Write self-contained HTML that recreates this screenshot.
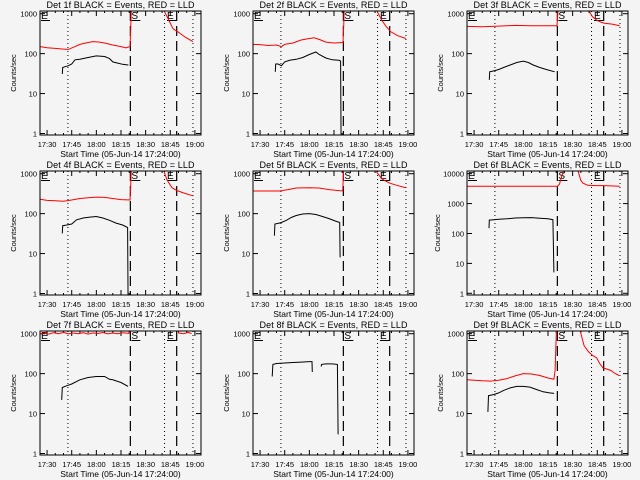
<!DOCTYPE html>
<html><head><meta charset="utf-8"><style>
html,body{margin:0;padding:0;background:#f4f4f4;}
svg{display:block;font-family:"Liberation Sans",sans-serif;}
</style></head><body>
<svg id="c" width="640" height="480" viewBox="0 0 640 480">
<rect width="640" height="480" fill="#f4f4f4"/>
</svg>
<script>
// minutes after 17:00
const det1LldTimes=[25.7,30,35,40,43,47,50,55,58,62,65,70,75,78,80.5,80.9,81.5,100,101.2,104,106.7,109.7,114,118.8];
const det1LldCounts=[150,140,135,130,128,150,170,190,200,195,185,165,150,140,150,400,3000,3000,1200,700,420,350,260,200];
const det1EventTimes=[39.3,39.5,41,43,45,47,50,55,60,65,68,70,73,76,79.5];
const det1EventCounts=[31,45,47,50,55,70,72,80,88,85,75,62,58,54,52];

const det2LldTimes=[25.7,30,35,40,43,45,50,55,60,63,67,70,75,80.5,80.9,81.5,100,101,104,106.7,109.7,114,118.8];
const det2LldCounts=[170,168,160,165,150,170,185,220,240,250,220,195,185,190,500,3000,3000,1200,700,480,350,280,240];
const det2EventTimes=[39.3,39.5,41,43,45,48,52,56,60,64,66,70,74,78,79,79.3];
const det2EventCounts=[35,55,55,50,62,68,72,80,95,110,95,78,70,68,65,0.5];

const det3LldTimes=[25.7,35,45,55,65,75,80.5,80.9,81.5,99,100.4,102,104.4,107,109.4,114,118.6];
const det3LldCounts=[480,470,490,510,500,500,500,900,3000,3000,1100,850,700,620,580,550,500];
const det3EventTimes=[39.3,39.5,42,45,48,52,56,60,63,66,70,74,79.1];
const det3EventCounts=[22,35,37,40,45,52,60,65,60,52,45,40,35];

const det4LldTimes=[25.7,30,35,40,45,50,55,60,65,70,75,80.5,80.9,81.5,100,101,103,106,109,113,118.8];
const det4LldCounts=[230,215,210,205,220,240,250,260,255,240,225,220,500,3000,3000,1200,700,450,380,330,280];
const det4EventTimes=[39.3,39.5,42,45,48,52,56,60,64,68,72,76,79,79.3];
const det4EventCounts=[32,50,52,55,70,78,82,85,78,68,58,52,45,0.5];

const det5LldTimes=[25.7,35,42,47,52,60,66,72,80.3,80.6,81.2,100,101,104,107,109,114,118.6];
const det5LldCounts=[370,370,370,400,440,445,440,400,370,700,3000,3000,1100,750,640,580,500,450];
const det5EventTimes=[38.7,39,41,43,46,49,52,56,60,64,68,72,76,78.5,78.7];
const det5EventCounts=[28,55,57,60,68,80,90,98,100,95,85,75,65,60,8];

const det6LldTimes=[25.7,40,60,80.7,82,83,84.1,85,92,93.3,95,96.3,99.3,104,109.4,118.6];
const det6LldCounts=[3800,3800,3800,3800,4500,7000,11000,30000,30000,12000,6000,4800,4100,4000,4000,3800];
const det6EventTimes=[39.1,39.3,42,45,50,55,60,65,70,75,78,78.3,78.6];
const det6EventCounts=[150,280,290,300,310,330,335,340,325,310,290,40,5];

const det7LldTimes=[25.7,28,31,34,37,40,43,46,49,52,55,58,61,64,67,70,73,76,79.9,80.3,109,110,113,116,118];
const det7LldCounts=[1000,1050,980,1060,1000,1080,990,1040,1000,1060,980,1050,1010,1070,990,1040,1000,1060,1020,3000,3000,1050,1000,1080,1000];
const det7EventTimes=[38.9,39.3,42,45,50,55,60,65,68,70,75,79.3];
const det7EventCounts=[22,45,50,55,70,80,85,85,72,70,60,48];

const det8LldTimes=[25.7,123];
const det8LldCounts=[3000,3000];
const det8EventTimes=[37.4,37.8,40,45,50,55,60,61.6,61.8,null,67.2,67.4,70,74,77.1,77.5];
const det8EventCounts=[85,170,180,185,190,195,200,200,110,null,150,170,175,175,170,3];

const det9LldTimes=[25.7,30,35,40,45,50,55,60,65,70,75,78.6,79.3,79.9,80.5,94,94.8,97,99.7,102,104.6,106.5,108.4,111,113.3,116,118.2];
const det9LldCounts=[70,68,66,65,68,75,88,100,98,90,78,72,120,600,3000,3000,1100,500,350,290,250,180,140,130,120,100,90];
const det9EventTimes=[38.4,38.8,42,45,48,52,56,60,64,68,72,76,78.7];
const det9EventCounts=[11,28,30,33,38,44,48,48,46,40,35,33,32];

const xTickTimes=[30,45,60,75,90,105,120];
const xTickLabels=["17:30","17:45","18:00","18:15","18:30","18:45","19:00"];
const dottedTimes=[42.7,101.5,118.8];
const dashedTimes=[80.7,108.9];

const panels=[
 {n:1,lt:det1LldTimes,lc:det1LldCounts,et:det1EventTimes,ec:det1EventCounts,big:false},
 {n:2,lt:det2LldTimes,lc:det2LldCounts,et:det2EventTimes,ec:det2EventCounts,big:false},
 {n:3,lt:det3LldTimes,lc:det3LldCounts,et:det3EventTimes,ec:det3EventCounts,big:false},
 {n:4,lt:det4LldTimes,lc:det4LldCounts,et:det4EventTimes,ec:det4EventCounts,big:false},
 {n:5,lt:det5LldTimes,lc:det5LldCounts,et:det5EventTimes,ec:det5EventCounts,big:false},
 {n:6,lt:det6LldTimes,lc:det6LldCounts,et:det6EventTimes,ec:det6EventCounts,big:true},
 {n:7,lt:det7LldTimes,lc:det7LldCounts,et:det7EventTimes,ec:det7EventCounts,big:false},
 {n:8,lt:det8LldTimes,lc:det8LldCounts,et:det8EventTimes,ec:det8EventCounts,big:false},
 {n:9,lt:det9LldTimes,lc:det9LldCounts,et:det9EventTimes,ec:det9EventCounts,big:false}
];
const NS="http://www.w3.org/2000/svg";
const svg=document.getElementById('c');
const colX=[40,253,467], rowY=[11,171,331], W=161, H=124;
function mk(tag,attrs,parent){const e=document.createElementNS(NS,tag);for(const k in attrs)e.setAttribute(k,attrs[k]);parent.appendChild(e);return e;}
function xs(t){return (t-25.7)*W/(123.7-25.7);}
panels.forEach((p,i)=>{
  const ox=colX[i%3], oy=rowY[Math.floor(i/3)];
  const lo=p.big?-0.057:-0.0376, hi=p.big?4.09:3.068;
  const ys=v=>H-(Math.log10(v)-lo)/(hi-lo)*H;
  const g=mk('g',{transform:`translate(${ox},${oy})`},svg);
  
  
  const cp=mk('clipPath',{id:'cp'+p.n},g); mk('rect',{x:0,y:0,width:W,height:H},cp);
  const t=mk('text',{x:W/2,y:-3,'text-anchor':'middle','font-size':9,fill:'#000',textLength:148,lengthAdjust:'spacing'},g);
  t.textContent='Det '+p.n+'f BLACK = Events, RED = LLD';
  
  
  const decs=p.big?[1,10,100,1000,10000]:[1,10,100,1000];
  decs.forEach(d=>{
    const y=ys(d);
    mk('line',{x1:0,x2:5,y1:y,y2:y,stroke:'#000'},g);
    mk('line',{x1:W-5,x2:W,y1:y,y2:y,stroke:'#000'},g);
    const l=mk('text',{x:-3,y:y+3,'text-anchor':'end','font-size':7.5,fill:'#000'},g);
    l.textContent=String(d);
    
    
  });
  const yt=mk('text',{x:0,y:0,transform:`translate(${p.big?-27:-24},${H/2}) rotate(-90)`,'text-anchor':'middle','font-size':7.5,fill:'#000'},g);
  yt.textContent='Counts/sec';
  
  
  for(let m=30;m<=120;m+=5){
    const x=xs(m), L=(m%15===0)?5:2;
    mk('line',{x1:x,x2:x,y1:H,y2:H-L,stroke:'#000'},g);
    mk('line',{x1:x,x2:x,y1:0,y2:L,stroke:'#000'},g);
  }
  xTickTimes.forEach((m,k)=>{
    const l=mk('text',{x:xs(m),y:H+12,'text-anchor':'middle','font-size':7.5,fill:'#000'},g);
    l.textContent=xTickLabels[k];
    
    
  });
  const xt=mk('text',{x:W/2,y:H+22,'text-anchor':'middle','font-size':8.5,fill:'#000'},g);
  xt.textContent='Start Time (05-Jun-14 17:24:00)';
  
  
  dottedTimes.forEach(m=>{mk('line',{x1:xs(m),x2:xs(m),y1:0,y2:H,stroke:'#000','stroke-dasharray':'1,3'},g);});
  dashedTimes.forEach(m=>{mk('line',{x1:xs(m),x2:xs(m),y1:0,y2:H,stroke:'#000','stroke-width':1.2,'stroke-dasharray':'10,5'},g);});
  [[1,'E'],[xs(dashedTimes[0])+1,'S'],[xs(103),'E']].forEach(([x,s])=>{
    const m=mk('text',{x:x,y:8,'font-size':10,fill:'#000'},g);
    m.textContent=s;
    
    
    mk('line',{x1:x,x2:x+9,y1:9.5,y2:9.5,stroke:'#000'},g);
  });
  const cg=mk('g',{'clip-path':`url(#cp${p.n})`},g);
  function series(ts,vs,col,name){
    let segs=[],cur=[];
    ts.forEach((tt,k)=>{ if(tt===null||vs[k]===null){if(cur.length)segs.push(cur);cur=[];} else cur.push(xs(tt).toFixed(1)+','+ys(vs[k]).toFixed(1)); });
    if(cur.length)segs.push(cur);
    segs.forEach(s=>{
      const pl=mk('polyline',{points:s.join(' '),fill:'none',stroke:col,'stroke-width':1},cg);
      
      
    });
  }
  series(p.lt,p.lc,'#ff0000','lld-line');
  series(p.et,p.ec,'#000000','events-line');
  mk('rect',{x:0,y:0,width:W,height:H,fill:'none',stroke:'#000'},g);
});
</script>
</body></html>
